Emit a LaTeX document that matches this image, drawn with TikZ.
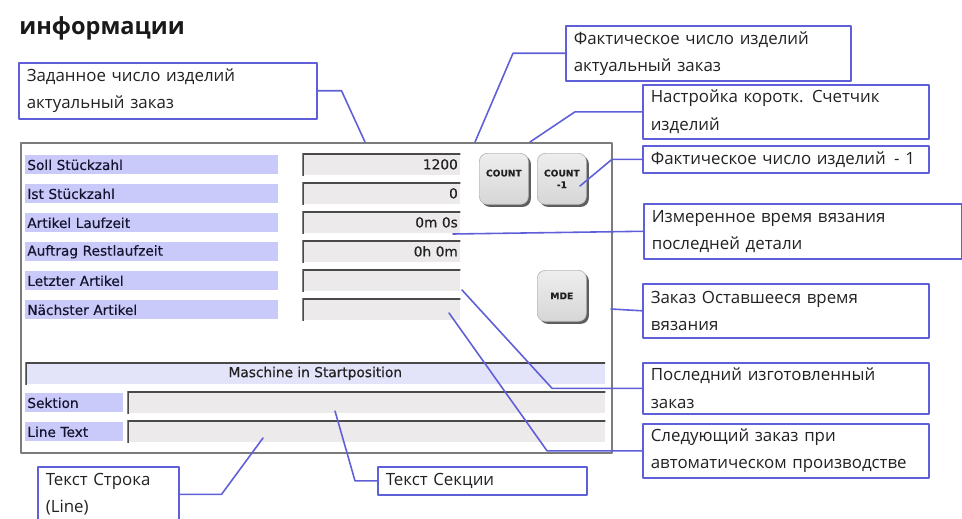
\documentclass[tikz,border=0pt]{standalone}
\usepackage{fontspec}
\usepackage{tikz}
\usetikzlibrary{positioning,shadows}
\newfontfamily\callfont{Open Sans}
\newfontfamily\uifont[FakeBold=0.35]{DejaVu Sans}
\newcommand\callsize{\fontsize{9.6pt}{15.5pt}\selectfont}
\newcommand\uisize{\fontsize{7.8pt}{9pt}\selectfont}
\newcommand\btnsize{\fontsize{5.2pt}{6.6pt}\selectfont}
\definecolor{callblue}{HTML}{5F5FD9}
\definecolor{labfill}{HTML}{CACAFA}
\definecolor{barfill}{HTML}{E3E3FA}
\definecolor{fldfill}{HTML}{ECEAEA}
\definecolor{fldedge}{HTML}{4A4A4A}
\definecolor{panedge}{HTML}{7C7C7C}
\definecolor{btnhi}{HTML}{EEEEEE}
\definecolor{btnlo}{HTML}{D6D6D6}
\definecolor{txtdark}{HTML}{222222}
\definecolor{labtext}{HTML}{14142E}
\tikzset{
  every picture/.style={line join=round, line cap=round},
  callout/.style={draw=callblue, line width=0.9pt, fill=white, anchor=north west, inner xsep=1.6mm, inner ysep=0.6mm, font=\callfont\callsize, text=txtdark, align=left},
  callline/.style={draw=callblue, line width=0.9pt},
  panelbox/.style={draw=panedge, line width=1.2pt, fill=white, anchor=north west, inner sep=0pt},
  labrow/.style={fill=labfill, anchor=north west, inner xsep=0.4mm, inner ysep=0pt, minimum height=3.8mm, font=\uifont\uisize, text=labtext, align=left},
  sunken/.style={path picture={\draw[fldedge,line width=2.2pt] (path picture bounding box.south west) -- (path picture bounding box.north west) -- (path picture bounding box.north east);}},
  fldrow/.style={sunken, fill=fldfill, anchor=north west, inner xsep=0.5mm, inner ysep=0pt, minimum height=4.4mm, font=\uifont\uisize, text=txtdark, align=right},
  btn/.style={draw=gray!55, top color=btnhi, bottom color=btnlo, rounded corners=1.6mm, anchor=north west, minimum width=9.8mm, minimum height=10.2mm, inner sep=0pt, font=\uifont\bfseries\btnsize, text=txtdark, align=center, drop shadow={shadow xshift=0.5mm, shadow yshift=-0.5mm, fill=black!70, opacity=0.9}},
  ttl/.style={anchor=west, inner sep=0pt, font=\callfont\bfseries\fontsize{13.4pt}{16pt}\selectfont, text=black!90},
}
\begin{document}
\begin{tikzpicture}[x=0.02cm,y=-0.02cm]
\useasboundingbox (0,0) rectangle (962,518);
\node[ttl] (title) at (19,28) {информации};
\node[panelbox, minimum width=118.2mm, minimum height=62mm] (panel) at (20,142) {};
\node[labrow, text width=49.8mm] (lab1) at (25,155) {Soll Stückzahl};
\node[labrow, text width=49.8mm] (lab2) at (25,184) {Ist Stückzahl};
\node[labrow, text width=49.8mm] (lab3) at (25,213) {Artikel Laufzeit};
\node[labrow, text width=49.8mm] (lab4) at (25,242) {Auftrag Restlaufzeit};
\node[labrow, text width=49.8mm] (lab5) at (25,271) {Letzter Artikel};
\node[labrow, text width=49.8mm] (lab6) at (25,300) {Nächster Artikel};
\node[fldrow, text width=30.6mm] (fld1) at (302,153) {1200};
\node[fldrow, text width=30.6mm] (fld2) at (302,182) {0};
\node[fldrow, text width=30.6mm] (fld3) at (302,211) {0m 0s};
\node[fldrow, text width=30.6mm] (fld4) at (302,240) {0h 0m};
\node[fldrow, text width=30.6mm] (fld5) at (302,269) {};
\node[fldrow, text width=30.6mm] (fld6) at (302,298) {};
\node[btn] (count) at (479,153) {COUNT\\\phantom{-1}};
\node[btn] (countm) at (537,153) {COUNT\\-1};
\node[btn] (mde) at (537,270) {MDE};
\node[fldrow, fill=barfill, minimum width=116mm, align=center] (status) at (25,362) {Maschine in Startposition};
\node[labrow, text width=18.8mm] (labsek) at (25,393) {Sektion};
\node[labrow, text width=18.8mm] (labline) at (25,422) {Line Text};
\node[fldrow, text width=94.6mm] (fldsek) at (127,391) {};
\node[fldrow, text width=94.6mm] (fldline) at (127,420) {};
\coordinate (k1) at (365,142);
\coordinate (k2) at (475,142);
\coordinate (k3) at (530,142);
\coordinate (k4) at (580,186);
\coordinate (k5) at (453,234);
\coordinate (k6) at (611,309);
\coordinate (k7) at (462,290);
\coordinate (k8) at (449,313);
\coordinate (k9) at (263,438);
\coordinate (k10) at (335,411);
\node[callout, text width=56.4mm, minimum height=11.2mm] (soll) at (18,62) {Заданное число изделий\\актуальный заказ};
\node[callout, text width=53.8mm, minimum height=11mm] (ist) at (565,25) {Фактическое число изделий\\актуальный заказ};
\node[callout, text width=54mm, minimum height=10.8mm] (kurz) at (642,84) {Настройка коротк. Счетчик\\изделий};
\node[callout, text width=54mm, minimum height=5.4mm] (minus) at (642,145) {Фактическое число изделий\enspace- 1};
\node[callout, text width=60.4mm, minimum height=11mm] (zeit) at (643,203) {Измеренное время вязания\\последней детали};
\node[callout, text width=54mm, minimum height=10.8mm] (rest) at (642,283) {Заказ Оставшееся время\\вязания};
\node[callout, text width=54mm, minimum height=10.2mm] (letzt) at (642,362) {Последний изготовленный\\заказ};
\node[callout, text width=54mm, minimum height=10.8mm] (naechst) at (642,423) {Следующий заказ при\\автоматическом производстве};
\node[callout, text width=25mm, minimum height=11mm] (zeile) at (37,466) {Текст Строка\\(Line)};
\node[callout, text width=38.6mm, minimum height=5.6mm] (sektion) at (377,466) {Текст Секции};
\draw[callline] (soll.east) -- ++(24,0) -- (k1);
\draw[callline] (ist.west) -- ++(-52,0) -- (k2);
\draw[callline] (kurz.west) -- ++(-67,0) -- (k3);
\draw[callline] (minus.west) -- ++(-30,0) -- (k4);
\draw[callline] (zeit.west) -- (k5);
\draw[callline] (rest.west) -- (k6);
\draw[callline] (letzt.west) -- ++(-90,0) -- (k7);
\draw[callline] (naechst.west) -- ++(-95,0) -- (k8);
\draw[callline] (zeile.east) -- ++(42,0) -- (k9);
\draw[callline] (sektion.west) -- ++(-22,0) -- (k10);
\end{tikzpicture}
\end{document}
